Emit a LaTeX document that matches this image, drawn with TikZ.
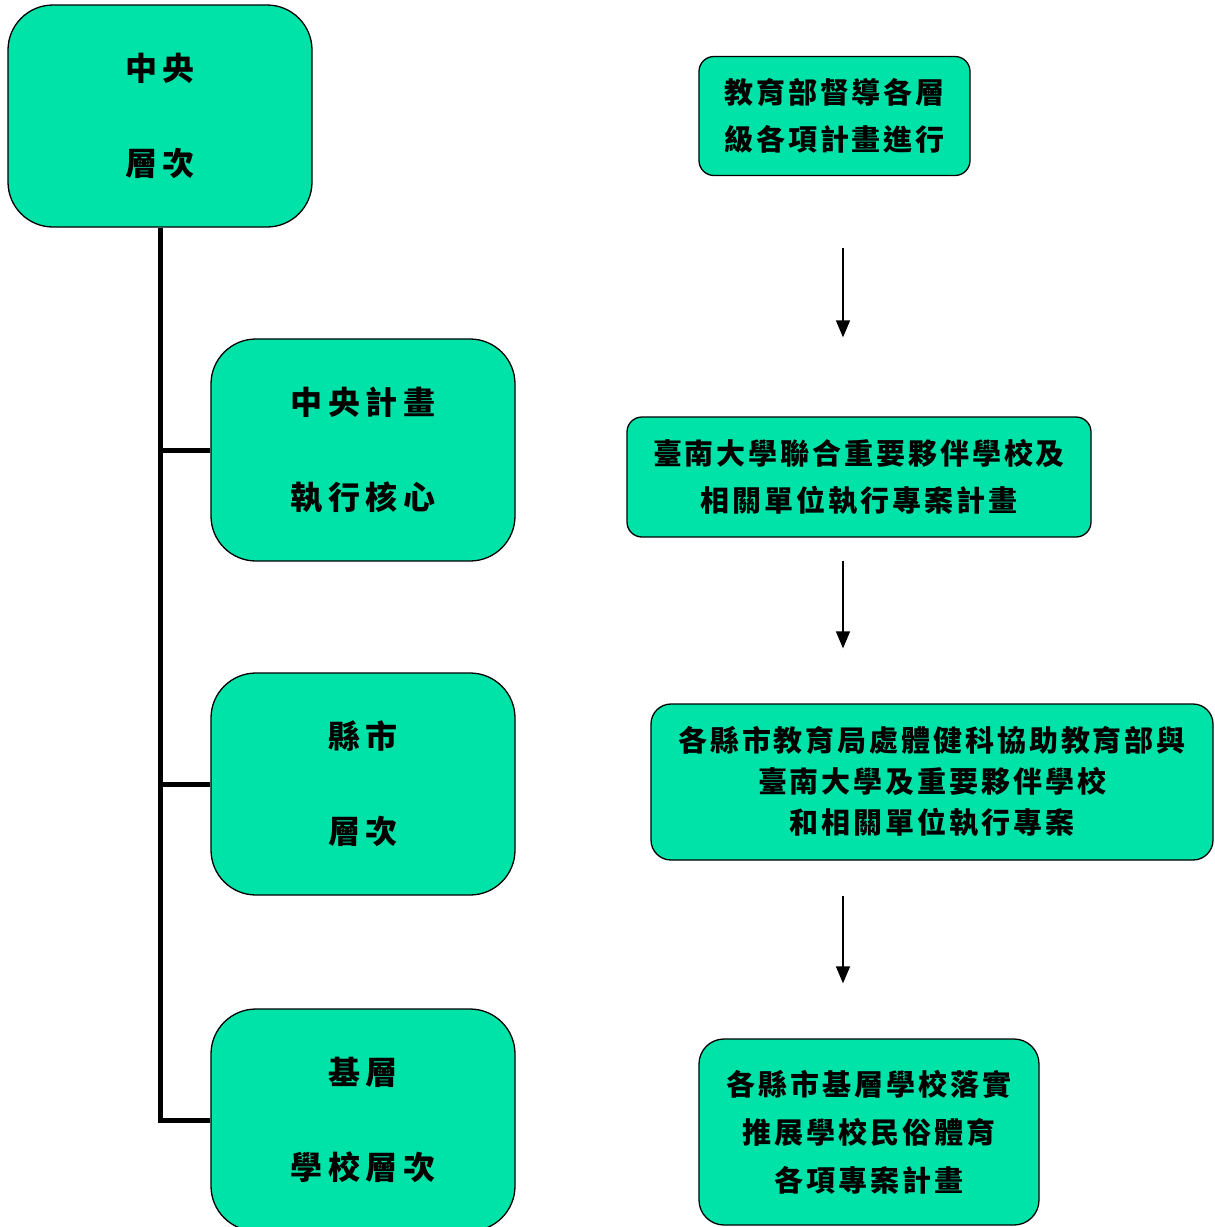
\documentclass[tikz,border=0pt]{standalone}
\usepackage{fontspec}
\usetikzlibrary{arrows.meta,calc}
\newfontfamily\cjkL[LetterSpace=18]{Noto Sans CJK TC}
\newfontfamily\cjkR[LetterSpace=10]{Noto Sans CJK TC}
\definecolor{boxgreen}{RGB}{0,227,168}
\tikzset{
  lbox/.style={draw=black, line width=1.3pt, fill=boxgreen, rounded corners=45pt,
    minimum width=304pt, minimum height=222pt, align=center, inner sep=0pt,
    font=\cjkL\bfseries\fontsize{32}{95}\selectfont},
  rbox/.style={draw=black, line width=1.3pt, fill=boxgreen, rounded corners=15pt,
    align=center, inner sep=0pt,
    font=\cjkR\bfseries\fontsize{29}{47}\selectfont},
  tree/.style={line width=5pt},
  arr/.style={line width=1.5pt, -{Triangle[length=17pt,width=14pt]}}
}
\begin{document}
\begin{tikzpicture}[x=1pt,y=-1pt]
\clip (0,0) rectangle (1215,1227);
\fill[white] (0,0) rectangle (1215,1227);
% left column
\node[lbox] (a) at (160,116) {中央\\層次};
\node[lbox] (b) at (363,450) {中央計畫\\執行核心};
\node[lbox] (c) at (363,784) {縣市\\層次};
\node[lbox] (d) at (363,1120) {基層\\學校層次};
\draw[tree] (a.south) |- (d.west);
\draw[tree] (b.west) -- (b.west -| a.south);
\draw[tree] (c.west) -- (c.west -| a.south);
% right column
\node[rbox, minimum width=271pt, minimum height=119pt] (r1) at (834.5,116) {教育部督導各層\\級各項計畫進行};
\node[rbox, minimum width=464pt, minimum height=120pt] (r2) at (859,477) {臺南大學聯合重要夥伴學校及\\相關單位執行專案計畫};
\node[rbox, minimum width=562pt, minimum height=156pt, rounded corners=20pt,
  font=\cjkR\bfseries\fontsize{29}{41}\selectfont] (r3) at (932,782) {各縣市教育局處體健科協助教育部與\\臺南大學及重要夥伴學校\\和相關單位執行專案};
\node[rbox, minimum width=340pt, minimum height=186pt, rounded corners=25pt,
  font=\cjkR\bfseries\fontsize{29}{48}\selectfont] (r4) at (869,1132) {各縣市基層學校落實\\推展學校民俗體育\\各項專案計畫};
\coordinate (ax) at (843,0);
\draw[arr, shorten <=72pt, shorten >=79pt] (r1.south -| ax) -- (r2.north -| ax);
\draw[arr, shorten <=23pt, shorten >=55pt] (r2.south -| ax) -- (r3.north -| ax);
\draw[arr, shorten <=35pt, shorten >=55pt] (r3.south -| ax) -- (r4.north -| ax);
\end{tikzpicture}
\end{document}
